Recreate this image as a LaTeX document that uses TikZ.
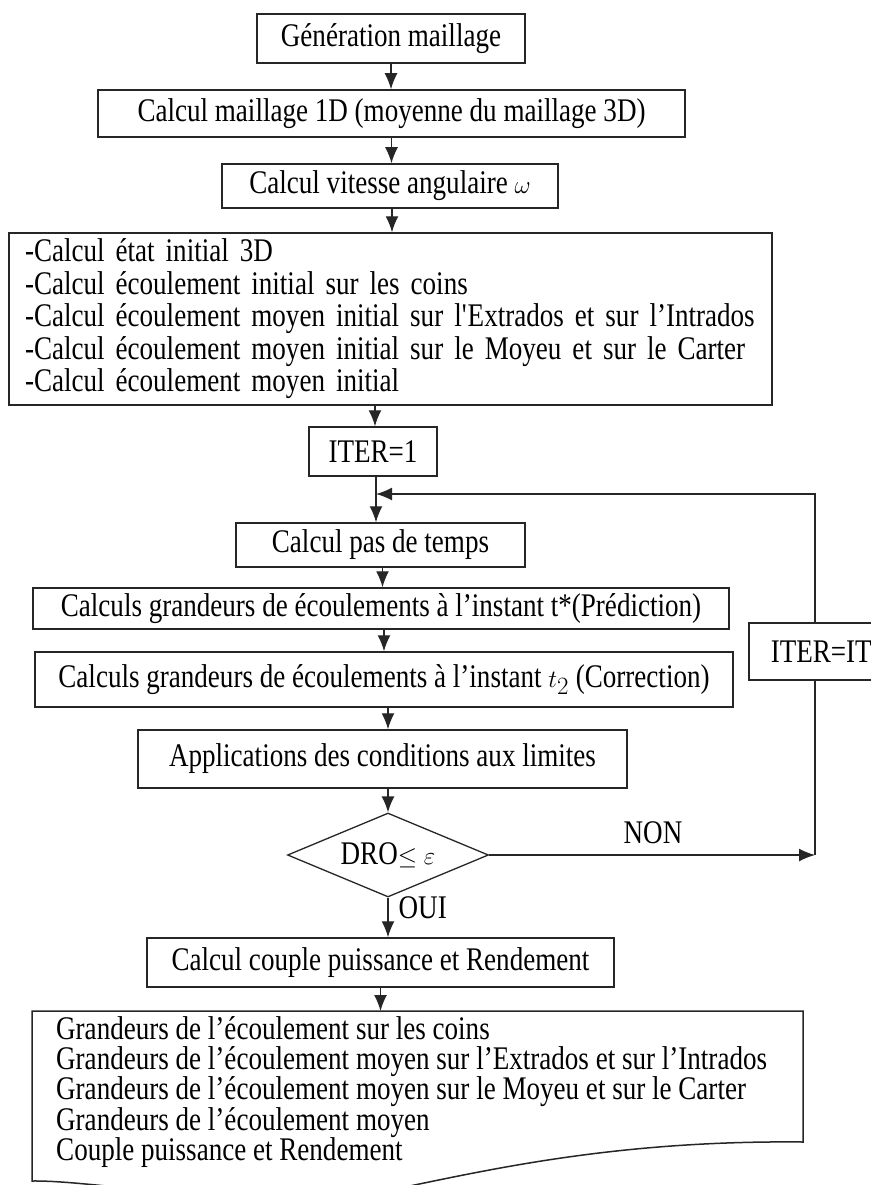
\documentclass[tikz,border=0pt]{standalone}
\usepackage{fontspec}
\setmainfont{Liberation Serif}[FakeStretch=0.82]
\usetikzlibrary{arrows.meta,shapes.geometric}
\tikzset{
  txt/.style={font=\fontsize{33}{33}\selectfont, inner sep=0pt},
  box/.style={txt, draw=black!85, line width=1.5pt, align=center},
  conn/.style={draw=black!85, line width=1.4pt},
  arr/.style={conn, -{Latex[length=16pt,width=13pt]}},
  decide/.style={txt, diamond, draw=black!85, line width=1.3pt, aspect=2.4},
  lbl/.style={txt}
}
\begin{document}
\begin{tikzpicture}[x=1pt,y=-1pt]
\path[fill=white, use as bounding box] (0,0) rectangle (870,1185);

\node[box, minimum width=268pt, minimum height=49pt] (b1) at (391,38.5) {Génération maillage};
\node[box, minimum width=587pt, minimum height=47pt] (b2) at (391.5,113.5) {Calcul maillage 1D (moyenne du maillage 3D)};
\node[box, minimum width=336pt, minimum height=44pt] (b3) at (390,186) {Calcul vitesse angulaire $\omega$};
\node[box, font=\fontsize{33}{32.5}\selectfont, text width=731pt, inner xsep=16pt, minimum height=172pt, align=left] (b4) at (390.5,319) {-Calcul état initial 3D\\
-Calcul écoulement initial sur les coins\\
-Calcul écoulement moyen initial sur l\textquotesingle Extrados et sur l’Intrados\\
-Calcul écoulement moyen initial sur le Moyeu et sur le Carter\\
-Calcul écoulement moyen initial};
\node[box, minimum width=128pt, minimum height=49pt] (it1) at (373,451.5) {ITER=1};
\node[box, minimum width=289pt, minimum height=44pt] (pas) at (380.5,545) {Calcul pas de temps};
\node[box, minimum width=696pt, minimum height=41pt] (pred) at (381,608.5) {Calculs grandeurs de écoulements à l’instant t*(Prédiction)};
\node[box, minimum width=698pt, minimum height=55pt] (corr) at (384,679.5) {Calculs grandeurs de écoulements à l’instant $t_2$ (Correction)};
\node[box, minimum width=489pt, minimum height=58pt] (appl) at (382.5,759) {Applications des conditions aux limites};
\node[decide, minimum width=201pt, minimum height=84pt] (dia) at (388,855) {DRO$\leq$ $\varepsilon$};
\node[box, anchor=west, minimum height=57pt, text width=120pt, inner xsep=22pt, align=left] (itit) at (748,651.5) {ITER=IT};
\coordinate (itx) at (815,0);
\node[box, minimum width=467pt, minimum height=49pt] (cc) at (380.5,962.5) {Calcul couple puissance et Rendement};

% document shape
\coordinate (dtop) at (382,1011);
\draw[conn, line width=1.5pt] (32,1011) -- (803,1011) -- (803,1142)
  .. controls (610,1140) and (480,1172) .. (390,1190)
  .. controls (250,1212) and (100,1180) .. (32,1181) -- cycle;
\node[txt, font=\fontsize{33}{30.2}\selectfont, anchor=west, align=left] (docu) at (56,1092) {Grandeurs de l’écoulement sur les coins\\
Grandeurs de l’écoulement moyen sur l’Extrados et sur l’Intrados\\
Grandeurs de l’écoulement moyen sur le Moyeu et sur le Carter\\
Grandeurs de l’écoulement moyen\\
Couple puissance et Rendement};

% connectors
\draw[arr] (b1.south) -- (b1.south |- b2.north);
\draw[arr] (b2.south) -- (b2.south |- b3.north);
\draw[arr] (b3.south) ++(2,0) coordinate (a3) -- (a3 |- b4.north);
\draw[arr] (it1.north |- b4.south) ++(2,0) coordinate (a4) -- (a4 |- it1.north);
\coordinate (j1) at ([xshift=3pt]it1.south);
\draw[arr] (j1) -- (j1 |- pas.north);
\coordinate (lj) at (j1 |- 0,494);
\draw[arr] (itx |- itit.north) |- (lj);
\coordinate (a6) at ([xshift=2pt]pas.south);
\draw[arr] (a6) -- (a6 |- pred.north);
\draw[arr] (corr.north |- pred.south) -- (corr.north);
\draw[arr] (dia.north |- corr.south) -- (dia.north |- appl.north);
\draw[arr] (dia.north |- appl.south) -- (dia.north);
\draw[arr] (dia.south) -- (dia.south |- cc.north) node[lbl, pos=0.25, right=10pt] (oui) {OUI};
\coordinate (nc) at (itx |- dia.east);
\draw[arr] (dia.east) -- (nc);
\draw[conn] (itx |- itit.south) -- (nc);
\node[lbl] (non) at (653,833) {NON};
\draw[arr] (cc.south) -- (cc.south |- dtop);
\end{tikzpicture}
\end{document}
